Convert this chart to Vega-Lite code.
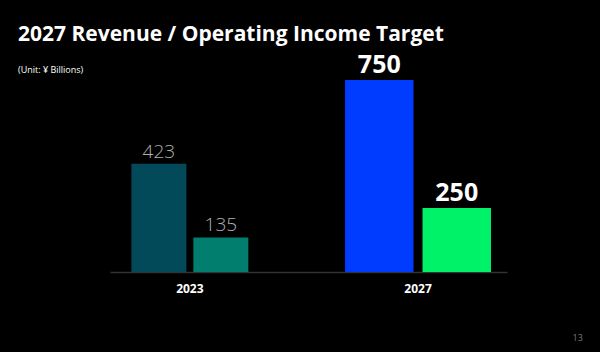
{
  "$schema": "https://vega.github.io/schema/vega-lite/v6.json",
  "width": 397,
  "height": 192,
  "autosize": {"type": "none"},
  "padding": {"left": 110, "top": 80, "right": 93, "bottom": 80},
  "background": "#000000",
  "title": {
    "text": "2027 Revenue / Operating Income Target",
    "subtitle": "(Unit: ¥ Billions)",
    "anchor": "start",
    "frame": "group",
    "dx": -92,
    "offset": -22,
    "font": "Open Sans",
    "fontSize": 21,
    "fontWeight": "bold",
    "color": "#ffffff",
    "subtitleFont": "Open Sans",
    "subtitleFontSize": 9,
    "subtitleColor": "#ffffff",
    "subtitlePadding": 21
  },
  "data": {
    "values": [
      {"year": "2023", "metric": "Revenue", "value": 423},
      {"year": "2023", "metric": "Operating Income", "value": 135},
      {"year": "2027", "metric": "Revenue", "value": 750},
      {"year": "2027", "metric": "Operating Income", "value": 250}
    ]
  },
  "encoding": {
    "x": {
      "field": "year",
      "type": "nominal",
      "sort": ["2023", "2027"],
      "scale": {"paddingInner": 0.3, "paddingOuter": 0.02, "align": 0},
      "axis": {
        "title": "13",
        "titleX": 462,
        "titleY": 61,
        "titleAlign": "left",
        "titleColor": "#7a7a7a",
        "titleFont": "Open Sans",
        "titleFontSize": 9,
        "titleFontWeight": "normal",
        "labelAngle": 0,
        "labelColor": "#ffffff",
        "labelFont": "Open Sans",
        "labelFontWeight": "bold",
        "labelFontSize": 12,
        "labelPadding": 11,
        "ticks": false,
        "grid": false,
        "domainColor": "#333333",
        "domainWidth": 1.5
      }
    },
    "y": {
      "field": "value",
      "type": "quantitative",
      "scale": {"domain": [0, 750]},
      "axis": null
    }
  },
  "layer": [
    {
      "transform": [{"filter": "datum.year == '2023'"}],
      "encoding": {
        "xOffset": {
          "field": "metric",
          "type": "nominal",
          "sort": ["Revenue", "Operating Income"],
          "scale": {"paddingInner": 0.113, "paddingOuter": 0.345}
        }
      },
      "layer": [
        {
          "mark": {"type": "bar"},
          "encoding": {
            "color": {
              "field": "metric",
              "type": "nominal",
              "scale": {"domain": ["Revenue", "Operating Income"], "range": ["#02495a", "#017e6e"]},
              "legend": null
            }
          }
        },
        {
          "mark": {"type": "text", "baseline": "alphabetic", "dy": -6, "fontSize": 19, "font": "Open Sans", "fontWeight": 300, "color": "#b0b0b0"},
          "encoding": {"text": {"field": "value", "type": "quantitative"}}
        }
      ]
    },
    {
      "transform": [{"filter": "datum.year == '2027'"}],
      "encoding": {
        "xOffset": {
          "field": "metric",
          "type": "nominal",
          "sort": ["Revenue", "Operating Income"],
          "scale": {"paddingInner": 0.117, "paddingOuter": 0.089}
        }
      },
      "layer": [
        {
          "mark": {"type": "bar"},
          "encoding": {
            "color": {
              "field": "metric",
              "type": "nominal",
              "scale": {"domain": ["Revenue", "Operating Income"], "range": ["#003cff", "#00f268"]},
              "legend": null
            }
          }
        },
        {
          "mark": {"type": "text", "baseline": "alphabetic", "dy": -7, "fontSize": 25, "font": "Open Sans", "fontWeight": "bold", "color": "#ffffff"},
          "encoding": {"text": {"field": "value", "type": "quantitative"}}
        }
      ]
    }
  ],
  "resolve": {"scale": {"xOffset": "independent", "color": "independent"}},
  "config": {"view": {"stroke": null}}
}
